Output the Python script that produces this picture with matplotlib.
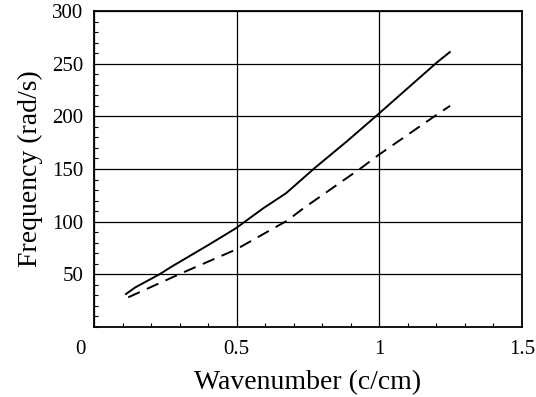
import matplotlib
matplotlib.use('Agg')
import matplotlib.pyplot as plt
import matplotlib.transforms as mtransforms
from matplotlib.ticker import MultipleLocator

matplotlib.rcParams['font.family'] = ['Liberation Serif', 'DejaVu Serif']

solid_k = [0.112, 0.144, 0.231, 0.270, 0.401, 0.497, 0.593, 0.673, 0.775, 0.886, 0.993, 1.201, 1.247]
solid_w = [31.3, 37.5, 50.3, 57.0, 77.9, 93.7, 112.7, 127.0, 151.3, 176.2, 201.3, 251.0, 261.0]

dashed_k = [0.120, 0.306, 0.497, 0.677, 0.734, 0.938, 0.997, 1.195, 1.248]
dashed_w = [28.2, 51.0, 73.5, 101.0, 112.7, 151.3, 163.3, 200.4, 210.0]

xticks = [0, 0.5, 1, 1.5]
xlabels = ['0', '0.5', '1', '1.5']
yticks = [50, 100, 150, 200, 250, 300]

fig = plt.figure(figsize=(5.36, 3.97), dpi=100)
ax = fig.add_axes([0.1754, 0.1763, 0.7985, 0.796])

ax.plot(solid_k, solid_w, color='black', lw=1.4)
ax.plot(dashed_k, dashed_w, color='black', lw=1.4, linestyle=(0, (6.5, 4)))

ax.set_xlim(0, 1.5)
ax.set_ylim(0, 300)
ax.set_xticks(xticks)
ax.set_xticklabels(xlabels)
ax.set_yticks(yticks)
ax.xaxis.set_minor_locator(MultipleLocator(0.1))
ax.yaxis.set_minor_locator(MultipleLocator(10))

ax.grid(True, which='major', color='black', lw=0.9)
for s in ax.spines.values():
    s.set_linewidth(1.3)

ax.tick_params(which='major', length=0, labelsize=15)
ax.tick_params(axis='x', which='major', pad=9)
ax.tick_params(axis='y', which='major', pad=7.5)
ax.tick_params(which='minor', direction='in', length=3, width=0.8)

# the "0" sits left of the corner
offset = mtransforms.ScaledTranslation(-14 / 100, 0, fig.dpi_scale_trans)
lbl0 = ax.get_xticklabels()[0]
lbl0.set_transform(lbl0.get_transform() + offset)

ax.set_xlabel('Wavenumber (c/cm)', fontsize=20, labelpad=8)
ax.set_ylabel('Frequency (rad/s)', fontsize=20, labelpad=7)

fig.savefig('out.png', dpi=100)
